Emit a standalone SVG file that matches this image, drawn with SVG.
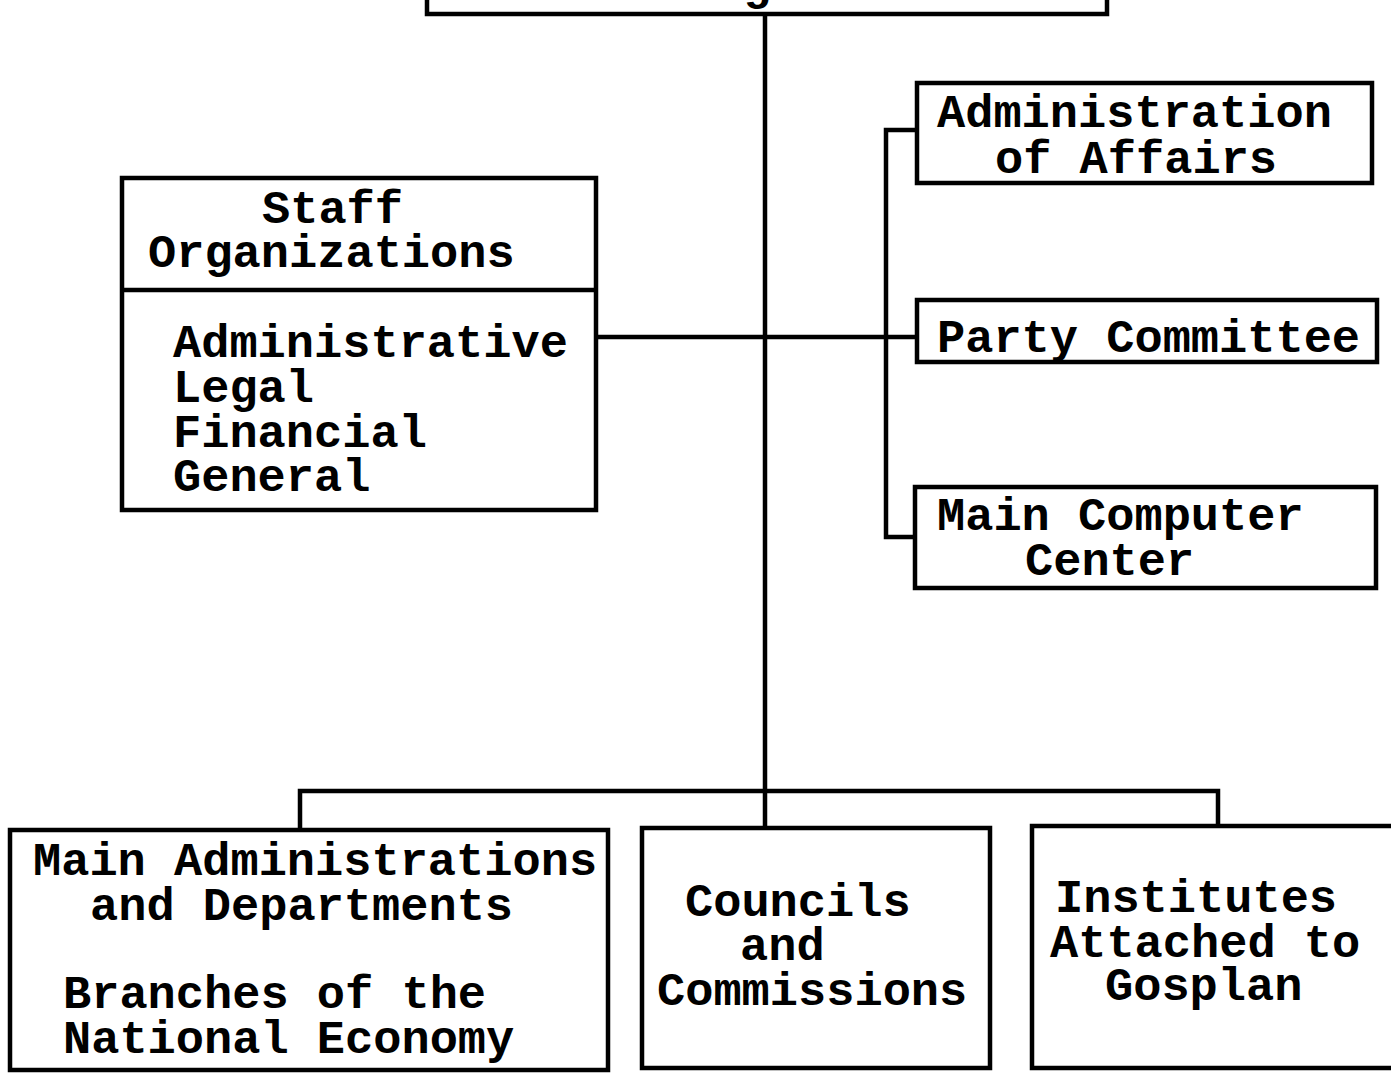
<svg xmlns="http://www.w3.org/2000/svg" width="1391" height="1073" viewBox="0 0 1391 1073">
<style>
.box{fill:#fff;stroke:#000;stroke-width:4.5}
.ln{fill:none;stroke:#000;stroke-width:4.5}
text{font-family:"Liberation Mono","Courier New",monospace;font-weight:bold;font-size:47px;fill:#000}
</style>
<rect width="1391" height="1073" fill="#fff"/>
<g id="connectors">
<path class="ln" d="M765 14 V828"/>
<path class="ln" d="M300 830 V791 H1218 V826"/>
<path class="ln" d="M596 337 H917"/>
<path class="ln" d="M917 130 H886 V537 H917"/>
</g>
<g id="top">
<rect class="box" x="427" y="-20" width="680" height="34"/>
<text x="743" y="-1">g</text>
</g>
<g id="staff">
<rect class="box" x="122" y="178" width="474" height="332"/>
<path class="ln" d="M122 290 H596"/>
<text x="262" y="223">Staff</text>
<text x="148" y="267">Organizations</text>
<text x="173" y="357">Administrative</text>
<text x="173" y="402">Legal</text>
<text x="173" y="447">Financial</text>
<text x="173" y="491">General</text>
</g>
<g id="affairs">
<rect class="box" x="917" y="83" width="455" height="100"/>
<text x="937" y="127">Administration</text>
<text x="995" y="173">of Affairs</text>
</g>
<g id="party">
<rect class="box" x="917" y="300" width="460" height="62"/>
<text x="937" y="352">Party Committee</text>
</g>
<g id="computer">
<rect class="box" x="915" y="487" width="461" height="101"/>
<text x="937" y="530">Main Computer</text>
<text x="1025" y="575">Center</text>
</g>
<g id="main-admin">
<rect class="box" x="10" y="830" width="598" height="240"/>
<text x="33" y="875">Main Administrations</text>
<text x="90" y="920">and Departments</text>
<text x="63" y="1008">Branches of the</text>
<text x="63" y="1053">National Economy</text>
</g>
<g id="councils">
<rect class="box" x="642" y="828" width="348" height="240"/>
<text x="685" y="916">Councils</text>
<text x="740" y="960">and</text>
<text x="657" y="1005">Commissions</text>
</g>
<g id="institutes">
<rect class="box" x="1032" y="826" width="380" height="242"/>
<text x="1055" y="912">Institutes</text>
<text x="1050" y="957">Attached to</text>
<text x="1105" y="1000">Gosplan</text>
</g>
</svg>
